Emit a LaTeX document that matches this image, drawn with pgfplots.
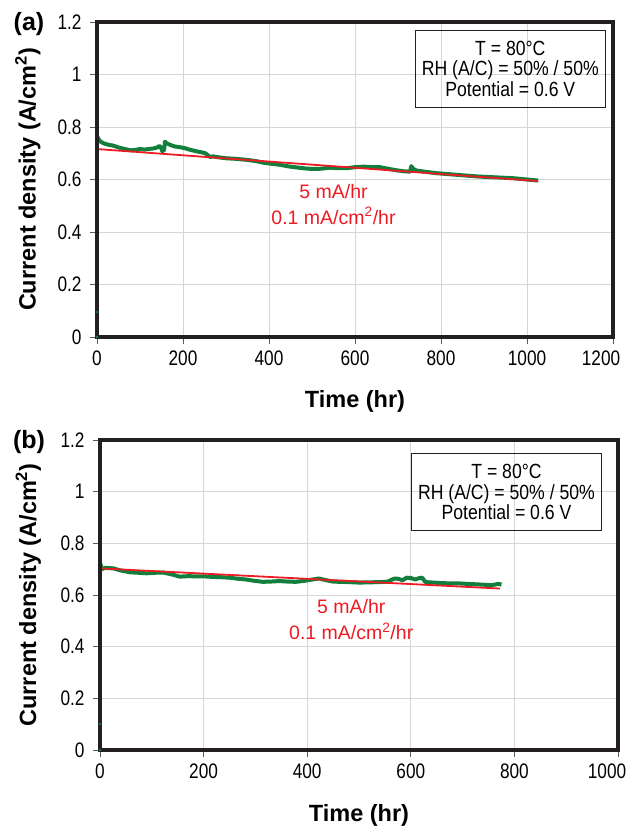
\documentclass[border=0pt]{standalone}
\usepackage{fontspec}
\setmainfont{Liberation Sans}
\newfontfamily\tickfont[FakeStretch=0.82]{Liberation Sans}
\newfontfamily\boxfont[FakeStretch=0.86]{Liberation Sans}
\usepackage{pgfplots}
\pgfplotsset{compat=1.18}
\definecolor{dgreen}{RGB}{18,128,60}
\definecolor{lred}{RGB}{237,28,36}
\definecolor{gridc}{RGB}{214,214,214}
\definecolor{axc}{RGB}{35,31,32}
\pgfplotsset{
  chartstyle/.style={
    scale only axis,
    anchor=north west,
    ymin=0, ymax=1.2,
    ytick={0,0.2,...,1.2},
    grid=major,
    major grid style={gridc, line width=1pt},
    axis line style={draw=none},
    tick align=outside,
    major tick length=7pt,
    tick style={gray!70!black, line width=0.8pt},
    xtick pos=bottom, ytick pos=left,
    /pgf/number format/assume math mode=true,
    /pgf/number format/fixed,
    /pgf/number format/1000 sep={},
    tick label style={font=\tickfont\fontsize{21}{21}\selectfont},
    yticklabel style={xshift=-5pt},
    xticklabel style={yshift=-3pt},
    label style={font=\fontsize{23.5}{26}\selectfont\bfseries},
    clip=false,
  },
}
\tikzset{
  boxnote/.style={draw=axc, line width=0.9pt, align=center, minimum width=190pt, minimum height=77pt, inner sep=0pt,
    font=\boxfont\fontsize{20.5}{20.7}\selectfont},
  rednote/.style={text=lred, font=\fontsize{19.5}{22}\selectfont, anchor=center},
}
\begin{document}
\begin{tikzpicture}
\path[use as bounding box] (0pt,0pt) rectangle (629pt,-832pt);
% ---------------- (a)
\begin{axis}[chartstyle,
  at={(97pt,-22pt)}, width=516pt, height=315pt,
  xmin=0, xmax=1200, xtick={0,200,...,1200},
  xticklabels={0,200,400,600,800,1000,{\hspace*{-24pt}1200}},
  xlabel={Time (hr)}, ylabel={Current density (A/cm\textsuperscript{2})},
  xlabel style={at={(axis description cs:0.5,-0.206)}, anchor=center},
  ylabel style={at={(axis description cs:-0.134,0.5)}, anchor=center},
]
\addplot[only marks, mark=*, mark size=1pt, color=dgreen] coordinates {(0,0) (0,0.095)};
\addplot[dgreen, line width=4pt, line join=round] coordinates {
(0,0.765) (3,0.755) (8,0.745) (15,0.738) (25,0.733) (38,0.729) (50,0.722) (60,0.718)
(70,0.714) (80,0.711) (90,0.713) (100,0.716) (110,0.714) (120,0.716) (130,0.718)
(140,0.722) (145,0.728) (148,0.724) (152,0.708) (156,0.712) (158,0.744) (162,0.738)
(170,0.732) (180,0.726) (193,0.723) (205,0.719) (215,0.714) (225,0.710) (235,0.706)
(245,0.703) (252,0.700) (258,0.692) (263,0.686) (270,0.688) (285,0.684) (300,0.681)
(320,0.679) (348,0.675) (370,0.670) (387,0.664) (405,0.660) (426,0.656) (445,0.650)
(464,0.646) (485,0.642) (503,0.640) (520,0.641) (542,0.645) (560,0.643) (581,0.643)
(600,0.647) (620,0.649) (640,0.647) (658,0.647) (680,0.640) (697,0.635) (715,0.631)
(728,0.630) (731,0.651) (736,0.640) (743,0.634) (770,0.628) (790,0.624) (813,0.621)
(850,0.616) (891,0.611) (930,0.608) (968,0.605) (1000,0.600) (1026,0.596)
};
\addplot[lred, line width=1.8pt] coordinates {(0,0.716) (1026,0.594)};
\draw[draw=axc, line width=3.2pt] (rel axis cs:0,0) -- (rel axis cs:1,0) -- (rel axis cs:1,1) -- (rel axis cs:0,1) -- cycle;
\node[boxnote, anchor=north east] at (rel axis cs:0.986,0.975) {T = 80°C\\RH (A/C) = 50\% / 50\%\\Potential = 0.6 V};
\node[rednote] at (axis cs:550,0.556) {5 mA/hr};
\node[rednote] at (axis cs:550,0.461) {0.1 mA/cm\textsuperscript{2}/hr};
\end{axis}
\node[font=\fontsize{25}{28}\selectfont\bfseries] at (29pt,-24pt) {(a)};
% ---------------- (b)
\begin{axis}[chartstyle,
  at={(100pt,-440pt)}, width=518pt, height=310pt,
  xmin=0, xmax=1000, xtick={0,200,...,1000},
  xticklabels={0,200,400,600,800,{\hspace*{-22pt}1000}},
  xlabel={Time (hr)}, ylabel={Current density (A/cm\textsuperscript{2})},
  xlabel style={at={(axis description cs:0.5,-0.21)}, anchor=center},
  ylabel style={at={(axis description cs:-0.1385,0.5)}, anchor=center},
]
\addplot[only marks, mark=*, mark size=1pt, color=dgreen] coordinates {(0,0) (0,0.1)};
\addplot[dgreen, line width=4pt, line join=round] coordinates {
(0,0.703) (1,0.72) (3,0.700) (10,0.705) (26,0.703) (40,0.695) (58,0.688) (75,0.686)
(90,0.684) (105,0.686) (122,0.687) (138,0.680) (154,0.671) (170,0.673) (186,0.672)
(202,0.672) (218,0.670) (234,0.669) (250,0.667) (266,0.663) (282,0.660) (298,0.655)
(314,0.651) (330,0.652) (346,0.654) (362,0.652) (378,0.651) (395,0.655) (410,0.660)
(423,0.664) (435,0.658) (450,0.652) (462,0.651) (480,0.650) (500,0.648) (520,0.649)
(540,0.650) (556,0.652) (564,0.660) (570,0.664) (577,0.662) (584,0.657) (592,0.667)
(600,0.666) (608,0.660) (616,0.665) (622,0.667) (628,0.650) (645,0.648) (660,0.646)
(676,0.645) (692,0.645) (710,0.643) (730,0.641) (756,0.638) (769,0.643) (775,0.640)
};
\addplot[lred, line width=1.8pt] coordinates {(0,0.703) (772,0.625)};
\draw[draw=axc, line width=3.2pt] (rel axis cs:0,0) -- (rel axis cs:1,0) -- (rel axis cs:1,1) -- (rel axis cs:0,1) -- cycle;
\node[boxnote, anchor=north east] at (rel axis cs:0.969,0.958) {T = 80°C\\RH (A/C) = 50\% / 50\%\\Potential = 0.6 V};
\node[rednote] at (axis cs:485,0.557) {5 mA/hr};
\node[rednote] at (axis cs:485,0.460) {0.1 mA/cm\textsuperscript{2}/hr};
\end{axis}
\node[font=\fontsize{25}{28}\selectfont\bfseries] at (29pt,-442pt) {(b)};
\end{tikzpicture}
\end{document}
